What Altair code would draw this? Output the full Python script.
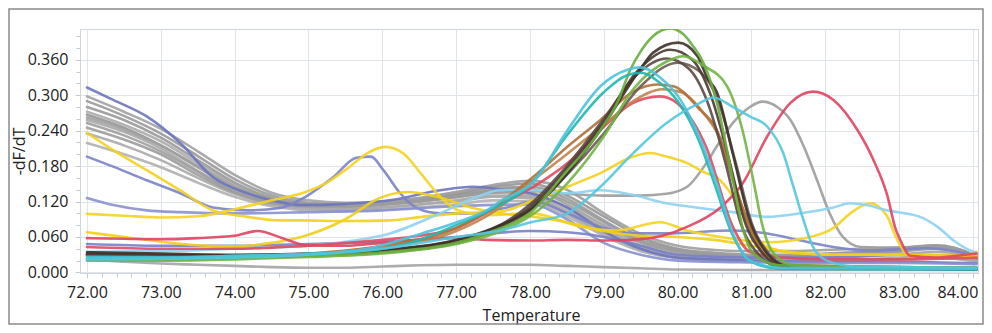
import altair as alt
import pandas as pd

# ---------------- data ----------------
TEMPS_GRID = [72.0, 72.5, 73.0, 73.5, 74.0, 74.5, 75.0, 75.5, 76.0, 76.5, 77.0, 77.5,
              78.0, 78.5, 79.0, 79.5, 80.0, 80.5, 81.0, 81.5, 82.0, 82.5, 83.0, 83.5,
              84.0, 84.05]

GRAY_1 = [0.298, 0.272, 0.243, 0.205, 0.165, 0.135, 0.122, 0.118, 0.120, 0.125, 0.132, 0.140,
          0.135, 0.110, 0.075, 0.045, 0.030, 0.025, 0.024, 0.024, 0.025, 0.027, 0.030, 0.035, 0.024, 0.020]
GRAY_2 = [0.290, 0.265, 0.235, 0.197, 0.158, 0.130, 0.118, 0.115, 0.118, 0.122, 0.130, 0.138,
          0.140, 0.120, 0.085, 0.052, 0.035, 0.028, 0.026, 0.026, 0.028, 0.030, 0.035, 0.040, 0.026, 0.022]
GRAY_3 = [0.272, 0.250, 0.222, 0.185, 0.148, 0.124, 0.113, 0.110, 0.114, 0.120, 0.127, 0.135,
          0.130, 0.105, 0.070, 0.042, 0.028, 0.022, 0.020, 0.020, 0.021, 0.022, 0.025, 0.028, 0.020, 0.018]
GRAY_4 = [0.267, 0.245, 0.215, 0.178, 0.142, 0.120, 0.112, 0.112, 0.117, 0.124, 0.133, 0.145,
          0.150, 0.130, 0.095, 0.060, 0.040, 0.033, 0.030, 0.030, 0.032, 0.035, 0.040, 0.045, 0.030, 0.025]
GRAY_5 = [0.258, 0.238, 0.210, 0.172, 0.138, 0.118, 0.110, 0.108, 0.110, 0.115, 0.122, 0.130,
          0.128, 0.100, 0.065, 0.038, 0.025, 0.020, 0.019, 0.019, 0.020, 0.021, 0.023, 0.026, 0.020, 0.017]
GRAY_6 = [0.253, 0.232, 0.205, 0.170, 0.136, 0.117, 0.112, 0.113, 0.118, 0.126, 0.136, 0.148,
          0.155, 0.140, 0.100, 0.065, 0.045, 0.038, 0.036, 0.036, 0.038, 0.040, 0.042, 0.046, 0.030, 0.025]
GRAY_7 = [0.219, 0.200, 0.178, 0.152, 0.128, 0.112, 0.105, 0.104, 0.106, 0.110, 0.115, 0.122,
          0.120, 0.095, 0.062, 0.036, 0.024, 0.020, 0.018, 0.018, 0.019, 0.020, 0.022, 0.025, 0.019, 0.016]
GRAY_8 = [0.262, 0.242, 0.215, 0.180, 0.145, 0.123, 0.115, 0.115, 0.119, 0.125, 0.135, 0.145,
          0.142, 0.115, 0.080, 0.050, 0.034, 0.028, 0.026, 0.027, 0.029, 0.032, 0.036, 0.042, 0.028, 0.022]
GRAY_9 = [0.280, 0.258, 0.228, 0.190, 0.152, 0.126, 0.115, 0.112, 0.115, 0.120, 0.128, 0.138,
          0.145, 0.125, 0.088, 0.055, 0.038, 0.030, 0.028, 0.028, 0.030, 0.033, 0.038, 0.044, 0.028, 0.024]
GRAY_10 = [0.235, 0.215, 0.190, 0.160, 0.133, 0.115, 0.108, 0.107, 0.110, 0.115, 0.120, 0.128,
           0.125, 0.100, 0.068, 0.040, 0.027, 0.022, 0.020, 0.020, 0.021, 0.022, 0.024, 0.027, 0.020, 0.017]

GRAY_LOW_T = [72.0, 72.5, 73.0, 73.5, 74.0, 74.5, 75.0, 75.5, 76.0, 76.5, 77.0, 77.5, 78.0, 78.5,
              79.0, 79.5, 80.0, 81.0, 82.0, 83.0, 84.05]
GRAY_LOW_V = [0.022, 0.018, 0.015, 0.013, 0.011, 0.009, 0.008, 0.008, 0.010, 0.012, 0.013, 0.013,
              0.013, 0.011, 0.009, 0.007, 0.005, 0.004, 0.004, 0.004, 0.004]

GRAY_PEAK_T = [72.0, 72.5, 73.0, 73.5, 74.0, 74.5, 75.0, 75.5, 76.0, 76.5, 77.0, 77.5, 78.0, 78.5,
               79.0, 79.5, 79.85, 80.13, 80.39, 80.53, 80.75, 80.98, 81.15, 81.35, 81.53, 81.71,
               81.89, 82.06, 82.24, 82.48, 83.0, 83.5, 83.75, 84.05]
GRAY_PEAK_V = [0.245, 0.225, 0.200, 0.165, 0.135, 0.118, 0.112, 0.112, 0.116, 0.120, 0.128, 0.135,
               0.138, 0.133, 0.130, 0.130, 0.133, 0.145, 0.185, 0.213, 0.253, 0.280, 0.289, 0.280,
               0.258, 0.213, 0.156, 0.100, 0.060, 0.043, 0.042, 0.045, 0.040, 0.025]

BLUE_A_T = [72.0, 72.355, 72.809, 73.263, 73.707, 74.17, 74.614, 74.89, 75.5, 76.104, 76.784,
            77.228, 77.692, 78.0, 78.5, 79.0, 79.5, 80.0, 81.0, 82.0, 83.0, 84.05]
BLUE_A_V = [0.313, 0.292, 0.264, 0.219, 0.161, 0.134, 0.119, 0.114, 0.116, 0.122, 0.139,
            0.145, 0.139, 0.134, 0.110, 0.070, 0.040, 0.025, 0.020, 0.018, 0.018, 0.015]

BLUE_B_T = [72.0, 72.355, 72.809, 73.263, 73.707, 74.17, 74.614, 74.96, 75.334, 75.65, 75.847,
            76.015, 76.242, 76.469, 76.784, 77.228, 77.692, 78.047, 78.511, 78.955, 79.399,
            79.852, 80.75, 81.214, 81.668, 82.112, 82.556, 83.384, 83.937, 84.05]
BLUE_B_V = [0.196, 0.179, 0.156, 0.134, 0.110, 0.105, 0.109, 0.128, 0.161, 0.194, 0.196,
            0.173, 0.134, 0.109, 0.100, 0.100, 0.110, 0.120, 0.100, 0.077, 0.066,
            0.066, 0.071, 0.066, 0.054, 0.043, 0.037, 0.041, 0.032, 0.030]

BLUE_C_T = [72.0, 72.355, 72.809, 73.263, 74.0, 75.0, 76.0, 77.0, 78.0, 78.5, 79.0, 79.5, 80.0,
            81.0, 82.0, 83.0, 84.05]
BLUE_C_V = [0.126, 0.114, 0.105, 0.102, 0.100, 0.102, 0.105, 0.112, 0.115, 0.090, 0.050, 0.030,
            0.020, 0.017, 0.016, 0.016, 0.014]

BLUE_D_T = [72.0, 73.0, 74.0, 75.0, 76.0, 77.0, 78.0, 78.5, 79.0, 79.5, 80.0, 81.0, 82.0, 83.0, 84.05]
BLUE_D_V = [0.048, 0.045, 0.045, 0.048, 0.052, 0.060, 0.070, 0.068, 0.060, 0.045, 0.030, 0.025,
            0.025, 0.030, 0.028]

YEL_A_T = [72.0, 72.355, 72.809, 73.263, 73.707, 74.17, 74.614, 74.89, 75.5, 76.104, 76.538,
           77.011, 77.593, 78.047, 78.511, 78.955, 79.399, 79.626, 79.852, 80.129, 80.385,
           80.533, 80.75, 80.879, 81.026, 81.214, 81.668, 82.5, 83.5, 84.05]
YEL_A_V = [0.236, 0.207, 0.173, 0.139, 0.105, 0.094, 0.088, 0.088, 0.087, 0.088, 0.094,
           0.100, 0.103, 0.122, 0.145, 0.168, 0.196, 0.202, 0.196, 0.185, 0.168,
           0.161, 0.128, 0.100, 0.066, 0.043, 0.032, 0.030, 0.030, 0.028]

YEL_B_T = [72.0, 72.5, 73.0, 73.5, 74.0, 74.5, 74.96, 75.25, 75.55, 75.8, 76.035, 76.28,
           76.538, 76.784, 77.031, 77.4, 78.018, 78.708, 79.182, 79.764, 80.129, 80.582,
           81.214, 81.796, 82.11, 82.34, 82.61, 82.84, 82.95, 83.06, 83.2, 83.45, 83.85, 84.05]
YEL_B_V = [0.099, 0.096, 0.093, 0.095, 0.107, 0.122, 0.136, 0.152, 0.178, 0.202, 0.2125, 0.202,
           0.165, 0.128, 0.105, 0.097, 0.100, 0.077, 0.071, 0.085, 0.071, 0.060,
           0.051, 0.060, 0.075, 0.100, 0.117, 0.095, 0.062, 0.037, 0.026, 0.025, 0.028, 0.035]

YEL_C_T = [72.0, 72.5, 73.0, 73.5, 74.0, 74.5, 74.9, 75.5, 75.95, 76.34, 76.74, 77.2, 77.6,
           78.0, 78.5, 79.0, 79.5, 80.0, 80.5, 81.0, 81.5, 82.0, 83.0, 84.05]
YEL_C_V = [0.068, 0.060, 0.052, 0.046, 0.044, 0.050, 0.060, 0.090, 0.125, 0.136, 0.128, 0.110,
           0.100, 0.095, 0.085, 0.070, 0.062, 0.060, 0.055, 0.045, 0.035, 0.030, 0.030, 0.025]

RED_A_T = [72.0, 72.5, 73.0, 73.5, 74.0, 74.308, 74.65, 74.96, 75.5, 76.0, 76.5, 77.0, 77.4,
           78.0, 78.5, 79.0, 79.5, 80.129, 80.582, 80.879, 81.214, 81.53, 81.835, 82.112,
           82.437, 82.655, 82.842, 82.95, 83.02, 83.15, 83.5, 83.9, 84.05]
RED_A_V = [0.058, 0.057, 0.056, 0.058, 0.062, 0.070, 0.058, 0.046, 0.045, 0.050, 0.055, 0.058,
           0.055, 0.054, 0.055, 0.054, 0.056, 0.077, 0.110, 0.150, 0.230, 0.287, 0.306, 0.292,
           0.241, 0.190, 0.130, 0.075, 0.054, 0.028, 0.025, 0.030, 0.032]

RED_B_T = [72.0, 73.0, 74.0, 74.5, 75.0, 75.5, 76.0, 76.5, 77.0, 77.228, 77.593, 78.047,
           78.511, 78.955, 79.399, 79.764, 79.99, 80.385, 80.75, 80.977, 81.4, 82.0, 83.0, 84.05]
RED_B_V = [0.043, 0.040, 0.040, 0.042, 0.045, 0.050, 0.055, 0.062, 0.075, 0.088, 0.114, 0.145,
           0.185, 0.241, 0.287, 0.298, 0.287, 0.213, 0.077, 0.035, 0.025, 0.022, 0.022, 0.025]

CYAN_A_T = [72.0, 73.0, 74.0, 75.0, 75.65, 76.538, 77.011, 77.455, 77.593, 78.047, 78.511,
            78.955, 79.32, 79.497, 79.764, 80.04, 80.306, 80.533, 80.75, 80.977, 81.4, 84.05]
CYAN_A_V = [0.025, 0.025, 0.028, 0.032, 0.037, 0.066, 0.085, 0.108, 0.120, 0.153, 0.241,
            0.315, 0.343, 0.347, 0.330, 0.292, 0.226, 0.150, 0.066, 0.020, 0.008, 0.006]

CYAN_B_T = [72.0, 74.0, 75.0, 76.0, 77.011, 77.593, 78.018, 78.511, 78.955, 79.399, 79.852,
            80.306, 80.484, 80.75, 80.977, 81.214, 81.431, 81.569, 81.707, 81.835, 82.023,
            82.4, 84.05]
CYAN_B_V = [0.022, 0.025, 0.030, 0.040, 0.060, 0.071, 0.085, 0.100, 0.145, 0.202, 0.253,
            0.287, 0.296, 0.280, 0.264, 0.247, 0.202, 0.145, 0.088, 0.043, 0.020,
            0.010, 0.008]

TEAL_T = [72.0, 73.0, 74.0, 75.0, 76.0, 76.5, 77.0, 77.5, 78.0, 78.5, 79.0, 79.3, 79.5,
          79.75, 80.0, 80.3, 80.5, 80.75, 81.0, 81.4, 84.05]
TEAL_V = [0.027, 0.026, 0.028, 0.031, 0.040, 0.055, 0.080, 0.108, 0.148, 0.232, 0.305, 0.333,
          0.338, 0.322, 0.290, 0.220, 0.150, 0.062, 0.018, 0.006, 0.005]

LBLUE_T = [72.0, 73.0, 74.0, 75.0, 75.5, 76.104, 76.784, 77.288, 77.593, 78.047, 78.511,
           78.955, 79.399, 79.852, 80.306, 80.75, 81.214, 81.668, 82.112, 82.338, 82.556,
           82.842, 83.286, 83.523, 83.74, 83.966, 84.05]
LBLUE_V = [0.035, 0.036, 0.040, 0.045, 0.052, 0.066, 0.100, 0.128, 0.139, 0.139, 0.134,
           0.139, 0.131, 0.117, 0.109, 0.102, 0.094, 0.100, 0.110, 0.117, 0.114,
           0.105, 0.094, 0.077, 0.054, 0.037, 0.033]

GREEN_A_T = [72.0, 73.0, 74.0, 75.0, 76.0, 77.0, 77.5, 78.0, 78.511, 78.708, 78.955, 79.182,
             79.36, 79.49, 79.67, 79.9, 80.08, 80.21, 80.35, 80.533, 80.75, 80.879, 81.026,
             81.4, 84.05]
GREEN_A_V = [0.022, 0.022, 0.024, 0.028, 0.034, 0.050, 0.070, 0.100, 0.173, 0.200, 0.241, 0.287,
             0.343, 0.372, 0.400, 0.413, 0.403, 0.383, 0.355, 0.287, 0.156, 0.077, 0.032,
             0.012, 0.008]

GREEN_B_T = [72.0, 73.0, 74.0, 75.0, 76.0, 77.0, 77.5, 78.0, 78.5, 79.0, 79.399, 79.852,
             80.08, 80.35, 80.671, 80.879, 81.026, 81.154, 81.302, 81.6, 84.05]
GREEN_B_V = [0.020, 0.020, 0.022, 0.026, 0.032, 0.048, 0.065, 0.095, 0.150, 0.230, 0.310, 0.357,
             0.366, 0.350, 0.315, 0.241, 0.156, 0.077, 0.032, 0.012, 0.008]

DARK_A_T = [72.0, 73.0, 74.0, 75.0, 76.0, 77.0, 77.5, 78.047, 78.511, 78.955, 79.49, 79.67,
            80.01, 80.27, 80.4, 80.533, 80.75, 80.977, 81.214, 81.5, 84.05]
DARK_A_V = [0.034, 0.032, 0.030, 0.032, 0.038, 0.055, 0.075, 0.110, 0.168, 0.241, 0.343, 0.372,
            0.389, 0.366, 0.330, 0.305, 0.200, 0.088, 0.032, 0.010, 0.006]

DARK_B_T = [72.0, 73.0, 74.0, 75.0, 76.0, 77.0, 77.5, 78.0, 78.5, 79.0, 79.45, 79.9, 80.2,
            80.45, 80.7, 80.9, 81.15, 81.4, 84.05]
DARK_B_V = [0.030, 0.028, 0.027, 0.030, 0.036, 0.052, 0.072, 0.110, 0.175, 0.255, 0.340, 0.377,
            0.360, 0.300, 0.190, 0.090, 0.033, 0.012, 0.006]

DARK_C_T = [72.0, 73.0, 74.0, 75.0, 76.0, 77.0, 77.5, 78.0, 78.5, 79.0, 79.45, 79.85, 80.15,
            80.4, 80.65, 80.85, 81.1, 81.35, 84.05]
DARK_C_V = [0.032, 0.030, 0.028, 0.031, 0.037, 0.054, 0.074, 0.115, 0.180, 0.260, 0.335, 0.362,
            0.345, 0.290, 0.185, 0.085, 0.030, 0.011, 0.005]

DARK_D_T = [72.0, 73.0, 74.0, 75.0, 76.0, 77.0, 77.5, 78.0, 78.5, 79.0, 79.5, 80.0, 80.3,
            80.55, 80.8, 81.0, 81.25, 81.5, 84.05]
DARK_D_V = [0.030, 0.028, 0.028, 0.030, 0.036, 0.050, 0.070, 0.105, 0.165, 0.235, 0.315, 0.355,
            0.340, 0.290, 0.180, 0.085, 0.030, 0.010, 0.006]

BROWN_A_T = [72.0, 73.0, 74.0, 75.0, 76.0, 77.0, 77.5, 78.047, 78.511, 78.955, 79.399, 79.724,
             79.941, 80.306, 80.533, 80.75, 80.977, 81.154, 81.5, 84.05]
BROWN_A_V = [0.030, 0.029, 0.028, 0.032, 0.045, 0.075, 0.110, 0.162, 0.213, 0.258, 0.306, 0.318,
             0.315, 0.275, 0.241, 0.156, 0.077, 0.032, 0.012, 0.008]

BROWN_B_T = [72.0, 73.0, 74.0, 75.0, 76.0, 77.0, 77.5, 78.0, 78.5, 79.0, 79.4, 79.8, 80.05,
             80.35, 80.6, 80.8, 81.0, 81.2, 81.5, 84.05]
BROWN_B_V = [0.028, 0.027, 0.027, 0.030, 0.042, 0.070, 0.102, 0.152, 0.200, 0.250, 0.290, 0.310,
             0.305, 0.270, 0.220, 0.140, 0.070, 0.030, 0.012, 0.008]

X_TICKS = [72, 73, 74, 75, 76, 77, 78, 79, 80, 81, 82, 83, 84]
Y_TICKS = [0.0, 0.06, 0.12, 0.18, 0.24, 0.30, 0.36]
X_MINOR = [round(72 + 0.2 * i, 1) for i in range(61)]
Y_MINOR = [round(0.02 * i, 2) for i in range(21)]

# ---------------- assemble ----------------
curves = [
    ("GRAY_1", "#a2a2a2", TEMPS_GRID, GRAY_1),
    ("GRAY_2", "#9a9a9a", TEMPS_GRID, GRAY_2),
    ("GRAY_3", "#acacac", TEMPS_GRID, GRAY_3),
    ("GRAY_4", "#969696", TEMPS_GRID, GRAY_4),
    ("GRAY_5", "#a8a8a8", TEMPS_GRID, GRAY_5),
    ("GRAY_6", "#9e9e9e", TEMPS_GRID, GRAY_6),
    ("GRAY_7", "#b0b0b0", TEMPS_GRID, GRAY_7),
    ("GRAY_8", "#a0a0a0", TEMPS_GRID, GRAY_8),
    ("GRAY_9", "#999999", TEMPS_GRID, GRAY_9),
    ("GRAY_10", "#aaaaaa", TEMPS_GRID, GRAY_10),
    ("GRAY_LOW", "#a4a4a4", GRAY_LOW_T, GRAY_LOW_V),
    ("GRAY_PEAK", "#9c9c9c", GRAY_PEAK_T, GRAY_PEAK_V),
    ("BLUE_A", "#6d75bf", BLUE_A_T, BLUE_A_V),
    ("BLUE_B", "#7c83c8", BLUE_B_T, BLUE_B_V),
    ("BLUE_C", "#8a90cf", BLUE_C_T, BLUE_C_V),
    ("BLUE_D", "#7a80c6", BLUE_D_T, BLUE_D_V),
    ("YEL_A", "#f2d11e", YEL_A_T, YEL_A_V),
    ("YEL_B", "#f4d422", YEL_B_T, YEL_B_V),
    ("YEL_C", "#f1cf1a", YEL_C_T, YEL_C_V),
    ("LBLUE", "#8ed2f0", LBLUE_T, LBLUE_V),
    ("RED_A", "#df4460", RED_A_T, RED_A_V),
    ("RED_B", "#e04a62", RED_B_T, RED_B_V),
    ("BROWN_B", "#c0834b", BROWN_B_T, BROWN_B_V),
    ("BROWN_A", "#b0713a", BROWN_A_T, BROWN_A_V),
    ("DARK_D", "#6b5b52", DARK_D_T, DARK_D_V),
    ("DARK_C", "#5a4a41", DARK_C_T, DARK_C_V),
    ("DARK_B", "#4a3b33", DARK_B_T, DARK_B_V),
    ("DARK_A", "#3e312a", DARK_A_T, DARK_A_V),
    ("GREEN_B", "#72b446", GREEN_B_T, GREEN_B_V),
    ("GREEN_A", "#6aad3d", GREEN_A_T, GREEN_A_V),
    ("TEAL", "#22b7b0", TEAL_T, TEAL_V),
    ("CYAN_B", "#55c8de", CYAN_B_T, CYAN_B_V),
    ("CYAN_A", "#4cc3da", CYAN_A_T, CYAN_A_V),
]

rows = []
names, colors = [], []
for i, (name, color, ts, vs) in enumerate(curves):
    key = f"{i:02d}_{name}"
    names.append(key)
    colors.append(color)
    for t, v in zip(ts, vs):
        rows.append({"curve": key, "T": t, "v": v})
df = pd.DataFrame(rows)

X_DOMAIN = [71.905, 84.07]
Y_DOMAIN = [-0.001, 0.412]
FONT = "Open Sans"

lines = alt.Chart(df).mark_line(
    interpolate="monotone", strokeWidth=2.6, clip=True, opacity=0.9, strokeCap="round"
).encode(
    x=alt.X("T:Q",
            scale=alt.Scale(domain=X_DOMAIN, nice=False, zero=False),
            axis=alt.Axis(values=X_TICKS, format=".2f", title="Temperature",
                          grid=True, gridColor="#dfe5eb", gridWidth=1,
                          domainColor="#cfd6dd", tickColor="#cfd6dd", tickSize=5,
                          labelFont=FONT, labelFontSize=16, labelColor="#222222",
                          labelPadding=6, labelFlush=6, labelFlushOffset=5,
                          titleFont=FONT, titleFontSize=16,
                          titleFontWeight="normal", titleColor="#222222",
                          titleX=451, titleY=47, titleAlign="center",
                          titleBaseline="alphabetic")),
    y=alt.Y("v:Q",
            scale=alt.Scale(domain=Y_DOMAIN, nice=False, zero=False),
            axis=alt.Axis(values=Y_TICKS, format=".3f", title="-dF/dT",
                          grid=True, gridColor="#dfe5eb", gridWidth=1,
                          domainColor="#cfd6dd", tickColor="#cfd6dd", tickSize=5,
                          labelFont=FONT, labelFontSize=16, labelColor="#222222",
                          labelPadding=7, titleFont=FONT, titleFontSize=16,
                          titleFontWeight="normal", titleColor="#222222",
                          titleAngle=270, titleX=-61, titleY=122, titleAlign="center",
                          titleBaseline="middle")),
    color=alt.Color("curve:N", scale=alt.Scale(domain=names, range=colors), legend=None),
)

minor = alt.Chart(df.head(1)).mark_point(opacity=0).encode(
    x=alt.X("T:Q", scale=alt.Scale(domain=X_DOMAIN, nice=False, zero=False),
            axis=alt.Axis(orient="bottom", values=X_MINOR, labels=False, grid=False,
                          domain=False, tickSize=4, tickColor="#c3cad2", title="")),
    y=alt.Y("v:Q", scale=alt.Scale(domain=Y_DOMAIN, nice=False, zero=False),
            axis=alt.Axis(orient="left", values=Y_MINOR, labels=False, grid=False,
                          domain=False, tickSize=4, tickColor="#c3cad2", title="")),
)

frame = alt.Chart(pd.DataFrame({"a": [0]})).mark_rect(
    fill="transparent", stroke="#8a8a8a", strokeWidth=1.5
).encode(
    x=alt.value(-71), x2=alt.value(903), y=alt.value(-20), y2=alt.value(295)
)

chart = alt.layer(lines, minor, frame).resolve_scale(
    x="independent", y="independent"
).properties(
    width=898, height=244,
    autosize=alt.AutoSizeParams(type="none"),
    padding={"left": 72, "top": 21, "right": 6, "bottom": 52},
    background="white",
).configure_view(stroke="#cfd6dd", strokeWidth=1)

chart.save("out.html", embed_options={"renderer": "svg", "actions": False})
